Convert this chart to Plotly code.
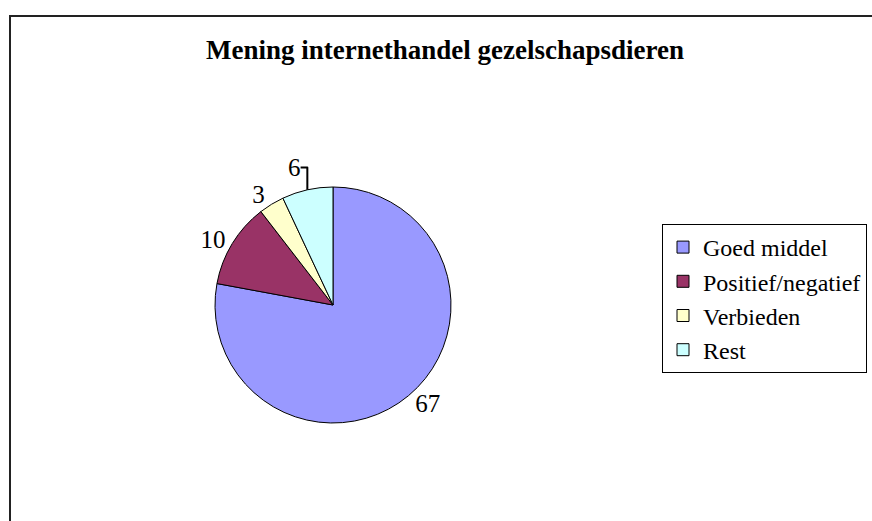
import plotly.graph_objects as go

W, H = 872, 521

title_text = "Mening internethandel gezelschapsdieren"
labels = ["Goed middel", "Positief/negatief", "Verbieden", "Rest"]
values = [67, 10, 3, 6]
colors = ["#9999FF", "#993366", "#FFFFCC", "#CCFFFF"]

SERIF = "Liberation Serif, Times New Roman, serif"

# pie centre / radius in pixels (layout only)
cx, cy, r = 333, 305, 118
dom_x = [(cx - r) / W, (cx + r) / W]
dom_y = [1 - (cy + r) / H, 1 - (cy - r) / H]

fig = go.Figure(go.Pie(
    labels=labels,
    values=values,
    marker=dict(colors=colors, line=dict(color="black", width=1)),
    sort=False,
    direction="clockwise",
    rotation=0,
    textinfo="value",
    textposition="outside",
    textfont=dict(family=SERIF, size=25, color="black"),
    domain=dict(x=dom_x, y=dom_y),
    hoverinfo="label+value",
))

fig.update_layout(
    width=W, height=H,
    margin=dict(l=0, r=0, t=0, b=0),
    paper_bgcolor="white",
    plot_bgcolor="white",
    font=dict(family=SERIF, color="black"),
    showlegend=True,
    legend=dict(
        x=662 / W, y=1 - 224 / H, xanchor="left", yanchor="top",
        bordercolor="black", borderwidth=1, bgcolor="white",
        font=dict(family=SERIF, size=24, color="black"),
    ),
    annotations=[dict(
        text="<b>" + title_text + "</b>",
        x=445 / W, y=1 - 50 / H, xref="paper", yref="paper",
        xanchor="center", yanchor="middle", showarrow=False,
        font=dict(family=SERIF, size=27, color="black"),
    )],
    shapes=[dict(
        type="rect", xref="paper", yref="paper",
        x0=10 / W, x1=1.2, y0=-0.2, y1=1 - 16 / H,
        line=dict(color="#222", width=2), fillcolor="rgba(0,0,0,0)",
        layer="below",
    )],
)

fig.write_html(
    "out.html",
    config={"displayModeBar": False},
    post_script="document.body.style.margin='0';document.body.style.overflow='hidden';",
)
